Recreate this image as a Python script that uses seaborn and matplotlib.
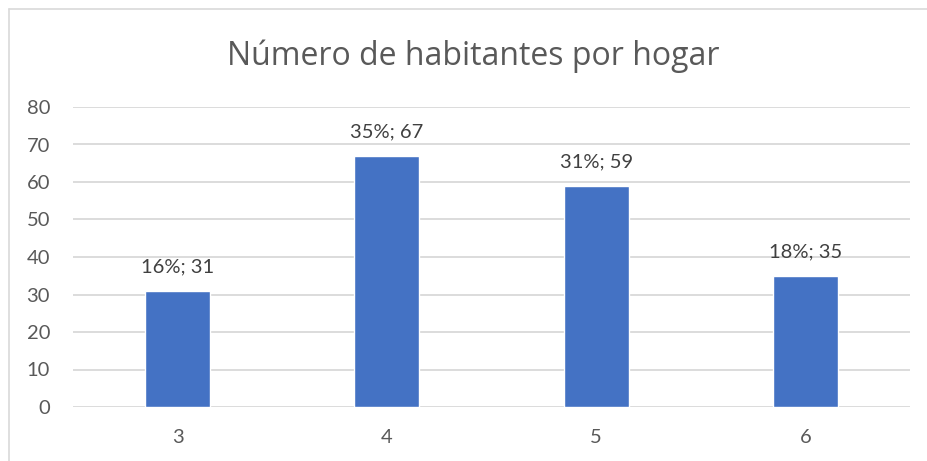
import matplotlib
matplotlib.use("Agg")
import matplotlib.pyplot as plt
import seaborn as sns
import pandas as pd
from matplotlib.lines import Line2D

categories = ["3", "4", "5", "6"]
values = [31, 67, 59, 35]
percents = ["16%", "35%", "31%", "18%"]
title = "Número de habitantes por hogar"
yticks = [0, 10, 20, 30, 40, 50, 60, 70, 80]

sns.set_theme(style="white")
plt.rcParams['font.family'] = ['Lato', 'DejaVu Sans']

text_color = "#595959"
grid_color = "#D9D9D9"
bar_color = "#4472C4"

W, H = 928, 461
fig = plt.figure(figsize=(W / 100, H / 100), dpi=100)
fig.patch.set_facecolor("white")
ax = fig.add_axes([73 / W, 1 - 407 / H, (910 - 73) / W, (407 - 107) / H])

df = pd.DataFrame({"cat": categories, "val": values})
sns.barplot(data=df, x="cat", y="val", color=bar_color, width=0.31,
            saturation=1, ax=ax, zorder=3)

ax.set_ylim(0, 80)
ax.set_xlim(-0.5, len(categories) - 0.5)
ax.set_yticks(yticks)
ax.set_yticklabels([str(t) for t in yticks])
ax.yaxis.grid(True, color=grid_color, linewidth=1.3, zorder=0)
ax.set_axisbelow(True)
for s in ax.spines.values():
    s.set_visible(False)
ax.tick_params(axis="both", length=0, colors=text_color, labelsize=14.5)
ax.tick_params(axis="y", pad=16.5)
ax.tick_params(axis="x", pad=15.5)
ax.set_xlabel("")
ax.set_ylabel("")

for i, (v, p) in enumerate(zip(values, percents)):
    ax.annotate(f"{p}; {v}", (i, v), xytext=(0, 13), textcoords="offset points",
                ha="center", va="baseline", color="#404040", fontsize=14.5)

fig.text(473 / W, 1 - 56 / H, title, ha="center", va="center",
         color=text_color, fontsize=23, family=["Open Sans", "DejaVu Sans"])

# chart-area border (left and top visible)
fig.add_artist(Line2D([9 / W, 9 / W], [0, 1 - 9 / H], color=grid_color,
                      linewidth=1.2, transform=fig.transFigure))
fig.add_artist(Line2D([9 / W, 1], [1 - 9 / H, 1 - 9 / H], color=grid_color,
                      linewidth=1.2, transform=fig.transFigure))

fig.savefig("out.png", dpi=100)
